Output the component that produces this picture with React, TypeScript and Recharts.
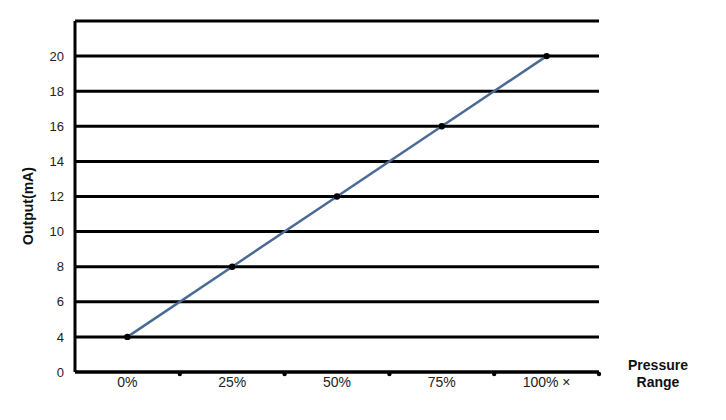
import { CartesianGrid, ComposedChart, Line, XAxis, YAxis } from "recharts";

// pressure range categories and transmitter output
const categories = ["0%", "25%", "50%", "75%", "100% ×"];
const outputMa = [4, 8, 12, 16, 20];

// y axis is broken below 4: the bottom tick is labelled "0"
const yTicks = [2, 4, 6, 8, 10, 12, 14, 16, 18, 20, 22];
const yTickLabels = ["0", "4", "6", "8", "10", "12", "14", "16", "18", "20", ""];

const data = categories.map((c, i) => ({ range: c, output: outputMa[i] }));

const FONT = "'Liberation Sans', Arial, sans-serif";
const BAND = (726 - 75 - 127) / categories.length;

const XTick = (props: any) => {
  const { x, y, payload } = props;
  const half = payload?.offset || BAND / 2;
  return (
    <g>
      <circle cx={x + half} cy={y - 6} r={2.2} fill="#000" />
      <text x={x} y={y + 7} textAnchor="middle" fontSize={14} fill="#222" fontFamily={FONT}>
        {payload.value}
      </text>
    </g>
  );
};

export default function App() {
  return (
    <div style={{ margin: -8 }}>
      <ComposedChart
        width={726}
        height={420}
        data={data}
        margin={{ top: 21, right: 127, left: 15, bottom: 18 }}
        style={{ background: "#fff" }}
      >
        <CartesianGrid vertical={false} stroke="#000" strokeWidth={3} />
        <XAxis
          dataKey="range"
          scale="band"
          height={30}
          tickLine={false}
          axisLine={{ stroke: "#000", strokeWidth: 3 }}
          tick={<XTick />}
          interval={0}
          label={{
            content: (p: any) => {
              const vb = p.viewBox || { x: 75, y: 372, width: 524 };
              const cx = vb.x + vb.width + 59;
              return (
                <text textAnchor="middle" fontSize={14} fontWeight="bold" fill="#111" fontFamily={FONT}>
                  <tspan x={cx} y={vb.y - 2}>Pressure</tspan>
                  <tspan x={cx} y={vb.y + 15}>Range</tspan>
                </text>
              );
            },
          }}
        />
        <YAxis
          type="number"
          domain={[2, 22]}
          ticks={yTicks}
          interval={0}
          width={60}
          tickLine={false}
          tickSize={6}
          tickMargin={5}
          axisLine={{ stroke: "#000", strokeWidth: 3 }}
          tick={{ fontSize: 13, fill: "#222", fontFamily: FONT }}
          tickFormatter={(v: number) => yTickLabels[yTicks.indexOf(v)] ?? ""}
          label={{
            content: () => (
              <text
                x={28}
                y={206}
                transform="rotate(-90 28 206)"
                textAnchor="middle"
                dominantBaseline="central"
                fontSize={14}
                fontWeight="bold"
                fill="#111"
                fontFamily={FONT}
              >
                Output(mA)
              </text>
            ),
          }}
        />
        <Line
          type="linear"
          dataKey="output"
          stroke="#4a6a96"
          strokeWidth={2.5}
          dot={{ r: 3.2, fill: "#000", stroke: "#000", strokeWidth: 0 }}
          isAnimationActive={false}
        />
      </ComposedChart>
    </div>
  );
}
